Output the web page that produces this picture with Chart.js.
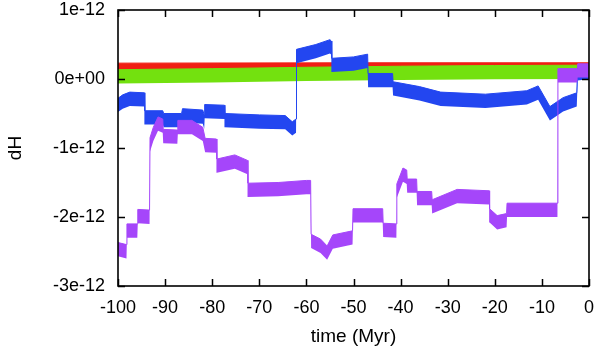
<!DOCTYPE html>
<html>
<head>
<meta charset="utf-8">
<script src="https://cdn.jsdelivr.net/npm/chart.js@4/dist/chart.umd.min.js"></script>
<style>
  html, body { margin: 0; padding: 0; background: #ffffff; }
  #wrap { width: 600px; height: 348px; position: relative; }
</style>
</head>
<body>
<div id="wrap"><canvas id="c" width="600" height="348"></canvas></div>
<script>
// values in units of 1e-12
const xTicks = [-100, -90, -80, -70, -60, -50, -40, -30, -20, -10, 0];
const yTicks = [-3, -2, -1, 0, 1];

const redT = [-100, -50, 0];
const redV = [0.165, 0.17, 0.17];
const redNoise = 0.065;

const greenT = [-100, -80, -60, -40, -20, 0];
const greenV = [0.035, 0.05, 0.07, 0.085, 0.095, 0.1];
const greenNoise = 0.1;

const blueT = [-100, -99, -97.5, -94.4, -94.3, -90.5, -90.3, -86.5, -86.3, -82, -81.7, -81.6,
  -77.4, -77.3, -70, -64.5, -63, -62.2, -62.1, -58, -55, -54.7, -54.6, -50, -47, -46.9,
  -41.7, -41.6, -36, -31.5, -22, -13.2, -10.8, -8.3, -5.5, -2.6, -2.4, 0];
const blueV = [-0.38, -0.33, -0.29, -0.3, -0.56, -0.56, -0.6, -0.6, -0.53, -0.55, -0.62, -0.47,
  -0.48, -0.6, -0.62, -0.63, -0.72, -0.68, 0.33, 0.4, 0.47, 0.45, 0.2, 0.22, 0.26, -0.02,
  -0.02, -0.14, -0.21, -0.29, -0.32, -0.27, -0.2, -0.5, -0.37, -0.3, 0.08, 0.1];
const blueNoise = 0.1;

const purpleT = [-100, -98.2, -98.1, -95.9, -95.8, -93.3, -93.2, -92.5, -91.5, -90.5, -90.4,
  -87.4, -87.3, -84.3, -82, -81.5, -79.1, -79.0, -75.2, -72.5, -72.4, -66, -60, -59.1, -59.0,
  -57, -55.6, -54.4, -50.2, -50.1, -43.8, -43.7, -40.9, -40.8, -39.5, -38.7, -38.6, -36.6,
  -36.5, -33.4, -33.3, -28, -21.2, -21.1, -19.5, -17.5, -17.4, -6.7, -6.6, -2.5, -2.4, 0];
const purpleV = [-2.47, -2.5, -2.2, -2.2, -1.99, -2.0, -0.95, -0.8, -0.65, -0.68, -0.83,
  -0.84, -0.7, -0.7, -0.8, -0.96, -0.97, -1.26, -1.2, -1.28, -1.61, -1.6, -1.57, -1.57, -2.35,
  -2.42, -2.52, -2.36, -2.3, -1.98, -1.98, -2.19, -2.2, -1.62, -1.39, -1.42, -1.55, -1.55,
  -1.73, -1.73, -1.85, -1.7, -1.72, -1.98, -2.08, -2.05, -1.9, -1.9, 0.05, 0.05, 0.12, 0.12];
const purpleNoise = 0.1;

const FONT = '"Liberation Sans", Arial, Helvetica, sans-serif';

function band(T, V, noise, color, order) {
  const lo = T.map((t, i) => ({ x: t, y: V[i] - noise }));
  const hi = T.map((t, i) => ({ x: t, y: V[i] + noise }));
  return { lo, hi, color, order };
}

const bands = [
  band(redT, redV, redNoise, 'rgb(240,30,20)', 8),
  band(greenT, greenV, greenNoise, 'rgb(115,225,15)', 6),
  band(blueT, blueV, blueNoise, 'rgb(35,70,240)', 4),
  band(purpleT, purpleV, purpleNoise, 'rgb(165,70,250)', 2)
];

const datasets = [];
bands.forEach(b => {
  const loIndex = datasets.length;
  datasets.push({
    data: b.lo, borderWidth: 0, borderColor: b.color, pointRadius: 0,
    fill: false, tension: 0, order: b.order
  });
  datasets.push({
    data: b.hi, borderWidth: 1, borderColor: b.color, backgroundColor: b.color,
    pointRadius: 0, fill: { target: loIndex }, tension: 0, order: b.order
  });
});

const frameAndTicks = {
  id: 'frameAndTicks',
  afterDraw(chart) {
    const ctx = chart.ctx;
    const { left, right, top, bottom } = chart.chartArea;
    const xs = chart.scales.x, ys = chart.scales.y;
    const L = 7;
    ctx.save();
    ctx.strokeStyle = '#000';
    ctx.lineWidth = 1.5;
    ctx.beginPath();
    xTicks.forEach(v => {
      const px = Math.round(xs.getPixelForValue(v)) + 0.5;
      ctx.moveTo(px, bottom); ctx.lineTo(px, bottom - L);
      ctx.moveTo(px, top); ctx.lineTo(px, top + L);
    });
    yTicks.forEach(v => {
      const py = Math.round(ys.getPixelForValue(v)) + 0.5;
      ctx.moveTo(left, py); ctx.lineTo(left + L, py);
      ctx.moveTo(right, py); ctx.lineTo(right - L, py);
    });
    ctx.stroke();
    ctx.lineWidth = 1.6;
    ctx.strokeRect(left, top, right - left, bottom - top);
    ctx.restore();
  }
};

function zeroPad(s) { s.paddingTop = 0; s.paddingBottom = 0; s.paddingLeft = 0; s.paddingRight = 0; }

new Chart(document.getElementById('c'), {
  type: 'line',
  data: { datasets },
  options: {
    responsive: false,
    animation: false,
    events: [],
    layout: { padding: { left: 4, right: 11, top: 10, bottom: 0 } },
    plugins: { legend: { display: false }, tooltip: { enabled: false } },
    scales: {
      x: {
        type: 'linear', min: -100, max: 0,
        afterBuildTicks: s => { s.ticks = xTicks.map(v => ({ value: v })); },
        afterFit: s => { s.height = 62; zeroPad(s); },
        grid: { display: false, drawTicks: false },
        border: { display: false },
        ticks: { color: '#000', padding: 11, font: { family: FONT, size: 18 }, maxRotation: 0,
                 callback: v => String(v) },
        title: { display: true, text: 'time (Myr)', color: '#000',
                 font: { family: FONT, size: 19 }, padding: { top: 0, bottom: 0 } }
      },
      y: {
        type: 'linear', min: -3, max: 1,
        afterBuildTicks: s => { s.ticks = yTicks.map(v => ({ value: v })); },
        afterFit: s => { s.width = 114; zeroPad(s); },
        grid: { display: false, drawTicks: false },
        border: { display: false },
        ticks: { color: '#000', padding: 13, font: { family: FONT, size: 18 },
                 callback: v => (v === 0 ? '0e+00' : v + 'e-12') },
        title: { display: true, text: 'dH', color: '#000',
                 font: { family: FONT, size: 19 }, padding: { top: 0, bottom: 0 } }
      }
    }
  },
  plugins: [frameAndTicks]
});
</script>
</body>
</html>
